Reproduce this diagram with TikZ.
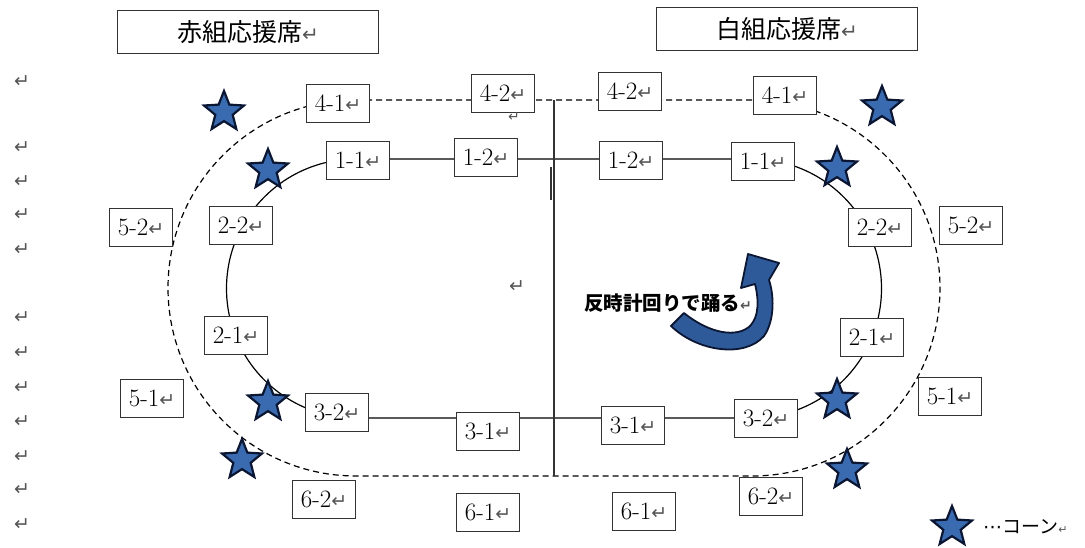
\documentclass[tikz,border=0pt]{standalone}
\usepackage{fontspec}
\usetikzlibrary{shapes.geometric}
\newfontfamily\cjk{Noto Sans CJK JP}
\newfontfamily\dvs{DejaVu Sans}
\definecolor{starfill}{HTML}{3A6BB0}
\definecolor{starline}{HTML}{0B1633}
\definecolor{arrowfill}{HTML}{2F5A9A}
\definecolor{linec}{HTML}{333333}
\definecolor{markc}{HTML}{555555}
\newcommand\rmark[1][19]{{\dvs\fontsize{#1}{#1}\selectfont\textcolor{markc}{↵}}}
\begin{document}
\begin{tikzpicture}[x=1pt,y=-1pt,
 lbl/.style={draw=linec, line width=1pt, fill=white, minimum width=63pt, minimum height=38pt, inner sep=0pt, font=\fontsize{25}{25}\selectfont},
 ttl/.style={draw=linec, line width=1pt, fill=white, minimum width=261pt, minimum height=43pt, inner sep=0pt, font=\cjk\fontsize{25}{25}\selectfont},
 cone/.style={star, star points=5, star point ratio=2.3, minimum size=42pt, inner sep=0pt, fill=starfill, draw=starline, line width=2.2pt},
 track/.style={draw=black, line width=1.2pt},
 outer/.style={draw=black, line width=1.2pt, dash pattern=on 6pt off 4pt},
 mk/.style={inner sep=0pt}]
\useasboundingbox (0,0) rectangle (1085,547);

% outer dashed course
\draw[outer] (356,100) -- (752,100) arc[start angle=-90, end angle=90, radius=188] -- (356,476) arc[start angle=90, end angle=270, radius=188] -- cycle;
% inner solid course
\draw[track] (356,159) -- (752,159) arc[start angle=-90, end angle=90, radius=129.5] -- (356,418) arc[start angle=90, end angle=270, radius=129.5] -- cycle;
% centre line
\coordinate (vt) at (554,100);
\coordinate (vb) at (554,476);
\draw[linec, line width=1.2pt] (vt) -- (vb);
\coordinate (vt2) at (551,167);
\coordinate (vb2) at (551,200);
\draw[linec, line width=1.2pt] (vt2) -- (vb2);

% titles
\node[ttl] (tr) at (248,32) {赤組応援席\rmark[20]};
\node[ttl] (tw) at (787,29) {白組応援席\rmark[20]};

% boxes
\node[lbl] (L41) at (338,103) {4-1\rmark};
\node[lbl] (L42) at (503,93) {4-2\rmark};
\node[lbl] (R42) at (630,91) {4-2\rmark};
\node[lbl] (R41) at (785,95) {4-1\rmark};
\node[lbl] (L11) at (358,160) {1-1\rmark};
\node[lbl] (L12) at (486,157) {1-2\rmark};
\node[lbl] (R12) at (631,160) {1-2\rmark};
\node[lbl] (R11) at (763,161) {1-1\rmark};
\node[lbl] (L22) at (241,225) {2-2\rmark};
\node[lbl] (L21) at (236,335) {2-1\rmark};
\node[lbl] (R22) at (880,227) {2-2\rmark};
\node[lbl] (R21) at (872,337) {2-1\rmark};
\node[lbl] (L52) at (141,227) {5-2\rmark};
\node[lbl] (L51) at (152,398) {5-1\rmark};
\node[lbl] (R52) at (971,225) {5-2\rmark};
\node[lbl] (R51) at (950,396) {5-1\rmark};
\node[lbl] (L32) at (337,412) {3-2\rmark};
\node[lbl] (L31) at (488,431) {3-1\rmark};
\node[lbl] (R31) at (633,425) {3-1\rmark};
\node[lbl] (R32) at (766,418) {3-2\rmark};
\node[lbl] (L62) at (324,499) {6-2\rmark};
\node[lbl] (L61) at (488,512) {6-1\rmark};
\node[lbl] (R61) at (644,511) {6-1\rmark};
\node[lbl] (R62) at (771,496) {6-2\rmark};

% cones
\node[cone] (s1) at (224,112) {};
\node[cone] (s2) at (268,170) {};
\node[cone] (s3) at (268,402) {};
\node[cone] (s4) at (242,460) {};
\node[cone] (s5) at (882,107) {};
\node[cone] (s6) at (837,168) {};
\node[cone] (s7) at (837,400) {};
\node[cone] (s8) at (847,470) {};
\node[cone] (s9) at (952,527) {};

% curved arrow
\filldraw[fill=arrowfill, draw=starline, line width=1.8pt, line join=round]
 (671,326) .. controls (698,352) and (745,358) .. (764,336)
 .. controls (775,320) and (774,295) .. (769,280)
 -- (779,263) -- (748,254) -- (741,288) -- (755,284)
 .. controls (759,300) and (759,317) .. (750,326)
 .. controls (737,338) and (710,334) .. (684,313) -- cycle;

\node[anchor=west, inner sep=0pt, font=\cjk\bfseries\fontsize{19.5}{19.5}\selectfont] (ccw) at (584,303) {反時計回りで踊る\rmark[14]};

% legend
\node[anchor=west, inner sep=0pt, font=\cjk\fontsize{19}{19}\selectfont] (leg) at (983,527) {{\dvs ⋯}コーン\rmark[11]};

% stray paragraph marks
\node[mk] (m0) at (517,287) {\rmark};
\node[mk] (m00) at (514,117) {\rmark[14]};
\foreach \yy [count=\i] in {82,148,182,215,250,318,353,388,422,457,490,525}
  \node[mk] (mm\i) at (22,\yy) {\rmark};
\end{tikzpicture}
\end{document}
